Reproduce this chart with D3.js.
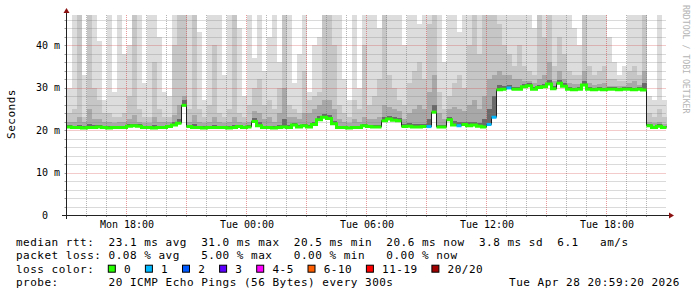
<!DOCTYPE html>
<html>
<head>
<meta charset="utf-8">
<script src="https://cdn.jsdelivr.net/npm/d3@7"></script>
<style>
  html, body { margin: 0; padding: 0; background: #fff; }
  svg { display: block; }
  text { font-family: "DejaVu Sans Mono", monospace; }
</style>
</head>
<body>
<div id="chart"></div>
<script>
// SmokePing style latency graph, one column per 15 minute step from Mon 15:00

// median rtt per step (ms)
const median = [
  20.7, 20.6, 20.6, 20.5, 20.6, 20.6, 20.7, 20.6, 20.5, 20.6,
  20.6, 20.6, 20.9, 21.0, 20.9, 20.6, 20.6, 20.5, 20.6, 20.6,
  20.8, 21.2, 21.6, 25.8, 20.8, 20.6, 20.6, 20.5, 20.6, 20.6,
  20.6, 20.6, 20.5, 20.6, 20.8, 20.6, 20.7, 22.0, 21.0, 20.6,
  20.6, 20.5, 20.6, 20.7, 20.6, 21.2, 20.7, 21.0, 20.7, 21.3,
  22.4, 23.0, 22.7, 21.5, 20.6, 20.6, 20.5, 20.6, 20.6, 21.0,
  20.8, 20.7, 20.7, 22.2, 22.6, 22.3, 22.2, 20.8, 20.9, 20.7,
  20.7, 20.8, 20.8, 24.2, 20.7, 20.7, 22.4, 21.2, 21.0, 21.3,
  21.0, 21.2, 20.9, 20.7, 21.3, 23.0, 29.5, 29.6, 29.9, 29.6,
  29.6, 30.2, 30.4, 29.6, 30.0, 30.2, 30.8, 29.7, 31.0, 30.3,
  29.6, 29.5, 29.6, 30.6, 29.6, 29.5, 29.6, 29.5, 29.6, 29.6,
  29.5, 29.6, 29.6, 29.5, 29.6, 29.4, 21.0, 20.6, 20.9, 20.6
];

// lost pings per step (index into lossLabels)
const lossIdx = [
  0, 0, 0, 0, 0, 0, 0, 0, 0, 0,
  0, 0, 0, 0, 0, 0, 0, 0, 0, 0,
  0, 0, 0, 0, 0, 0, 0, 0, 0, 0,
  0, 0, 0, 0, 0, 0, 0, 0, 0, 0,
  0, 0, 0, 0, 0, 0, 0, 0, 0, 0,
  0, 0, 0, 0, 0, 0, 0, 0, 0, 0,
  0, 0, 0, 0, 0, 0, 0, 0, 0, 0,
  0, 0, 1, 0, 0, 0, 0, 0, 1, 0,
  0, 0, 0, 0, 1, 1, 0, 0, 1, 0,
  0, 0, 0, 0, 0, 0, 0, 0, 0, 0,
  0, 0, 0, 0, 0, 0, 0, 0, 0, 0,
  0, 0, 0, 0, 0, 0, 0, 0, 0, 0
];

// smoke: slowest ping of the step (ms)
const pingMax = [
  30, 47.5, 47.5, 33, 47.5, 47.5, 41, 27, 47.5, 29,
  47.5, 38, 40, 47.5, 47.5, 31, 47.5, 47.5, 42, 29,
  28, 47.5, 47.5, 47.5, 47.5, 47.5, 43, 27, 47.5, 47.5,
  47.5, 33, 47.5, 47.5, 44, 28, 47.5, 37, 47.5, 34,
  42, 47.5, 36, 47.5, 47.5, 31, 38, 47.5, 29, 40,
  42, 47.5, 47.5, 47.5, 47.5, 32, 27, 47.5, 30, 47.5,
  47.5, 47.5, 44, 47.5, 47.5, 47.5, 47.5, 40, 47.5, 47.5,
  45, 47.5, 47.5, 47.5, 47.5, 36, 47.5, 47.5, 43, 47.5,
  47.5, 47.5, 47.5, 47.5, 47.5, 47.5, 47.5, 47.5, 47.5, 47.5,
  47.5, 47.5, 47.5, 44, 47.5, 47.5, 47.5, 47.5, 47.5, 47.5,
  47.5, 44, 40, 47.5, 47.5, 47.5, 47.5, 47.5, 42, 36,
  33, 35, 47.5, 47.5, 47.5, 47.5, 28, 27, 47.5, 27
];

// smoke: 18th of 20 sorted pings
const ping18 = [
  24, 25, 47.5, 23, 47.5, 30, 27, 24, 24, 23,
  23, 24, 28, 47.5, 25, 23, 23, 36, 25, 23,
  23, 40, 47.5, 47.5, 25, 47.5, 25, 23, 26, 40,
  24, 23, 25, 47.5, 24, 23, 26, 30, 32, 26,
  27, 25, 30, 47.5, 26, 25, 24, 34, 27, 28,
  29, 47.5, 47.5, 40, 26, 24, 23, 27, 25, 40,
  26, 28, 32, 47.5, 33, 30, 27, 26, 31, 34,
  36, 32, 45, 47.5, 29, 25, 28, 31, 33, 30,
  40, 47.5, 38, 47.5, 47.5, 47.5, 45, 40, 38, 35,
  40, 35, 34, 33, 47.5, 42, 47.5, 35, 42, 38,
  34, 33, 33, 47.5, 35, 33, 34, 35, 32, 32,
  31.5, 31.5, 34, 35, 33, 47.5, 24, 23, 25, 23
];

// smoke: 15th of 20 sorted pings
const ping15 = [
  22, 22, 23, 21.8, 25, 22.5, 22.5, 22, 21.8, 21.6,
  21.8, 22, 22.5, 23.5, 22, 21.6, 21.6, 23, 22, 21.8,
  21.8, 23.5, 26, 28, 22, 23.5, 22, 21.6, 22, 23,
  21.8, 21.6, 22, 23, 22, 21.6, 22, 24.5, 24, 22.5,
  23, 22, 24, 30, 23, 23, 22.5, 24, 24, 25,
  26, 27, 27, 25, 22.5, 22, 21.6, 22.5, 22, 23,
  22.5, 22.5, 23, 26, 25.5, 25, 24.5, 22.5, 24, 25,
  26, 25, 29, 33, 24, 22.5, 25, 25.5, 25, 24.5,
  26, 27, 25, 28, 32, 33, 34, 33, 33, 32,
  32, 31.5, 31.5, 31, 32, 33, 36, 31.5, 34, 32,
  31, 30.8, 30.8, 34, 31, 30.6, 30.8, 31, 30.4, 30.4,
  30.3, 30.3, 31, 31.5, 30.6, 34, 22, 21.6, 22, 21.5
];

// smoke: 12th of 20 sorted pings (just above the median)
const ping12 = [
  21.2, 21.0, 21.2, 20.9, 21.4, 21.1, 21.2, 21.0, 20.9, 20.9,
  21.0, 21.0, 21.3, 21.5, 21.3, 20.9, 20.9, 21.2, 21.0, 20.9,
  21.2, 21.8, 22.6, 27, 21.2, 21.3, 21.0, 20.9, 21.0, 21.2,
  21.0, 20.9, 20.9, 21.1, 21.2, 20.9, 21.1, 22.8, 21.8, 21.0,
  21.0, 20.9, 21.1, 22.5, 21.1, 21.7, 21.1, 21.5, 21.2, 22,
  23.2, 23.8, 23.5, 22.2, 21.0, 20.9, 20.8, 21.0, 21.0, 21.5,
  21.2, 21.1, 21.1, 23, 23.3, 23, 22.8, 21.3, 21.6, 21.4,
  21.5, 21.5, 22.5, 26, 21.2, 21.1, 23, 22.2, 22, 22,
  21.8, 22, 21.6, 22.5, 25, 28, 30.5, 30.4, 30.6, 30.2,
  30.2, 30.8, 31, 30.2, 30.6, 30.8, 31.8, 30.3, 31.8, 31,
  30.2, 30, 30.2, 31.5, 30.2, 30, 30.2, 30, 30.1, 30.1,
  30, 30.1, 30.2, 30, 30.2, 31, 21.4, 21.0, 21.3, 20.9
];

const yTicks = [0, 10, 20, 30, 40];
const xTickLabels = ["Mon 18:00", "Tue 00:00", "Tue 06:00", "Tue 12:00", "Tue 18:00"];
const lossLabels = ["0", "1", "2", "3", "4-5", "6-10", "11-19", "20/20"];
const lossColors = ["#26ff00", "#00b8ff", "#0059ff", "#5e00ff", "#ff00ff", "#ff5e00", "#ff0000", "#a10000"];

const legendRows = [
  "median rtt:  23.1 ms avg  31.0 ms max  20.5 ms min  20.6 ms now  3.8 ms sd  6.1   am/s",
  "packet loss: 0.08 % avg   5.00 % max   0.00 % min   0.00 % now"
];
const probeText = "probe:       20 ICMP Echo Pings (56 Bytes) every 300s";
const stampText = "Tue Apr 28 20:59:20 2026";

const W = 697, H = 297;
const x0 = 66.5, x1 = 666.5, yBase = 215, yTop = 15;
const start = new Date(2026, 3, 27, 15, 0);
const end = new Date(2026, 3, 28, 21, 0);
const step = 15 * 60 * 1000;
const times = median.map((d, i) => new Date(+start + i * step));

const x = d3.scaleTime().domain([start, end]).range([x0, x1]);
const y = d3.scaleLinear().domain([0, 47.06]).range([yBase, yTop]).clamp(true);
const crisp = v => Math.round(v) + 0.5;

const svg = d3.select("#chart").append("svg")
  .attr("width", W)
  .attr("height", H);

svg.append("rect").attr("width", W).attr("height", H).attr("fill", "#ffffff");

// smoke, outer band first
const smoke = svg.append("g").attr("shape-rendering", "crispEdges");
const bands = [
  { vals: pingMax, color: "#dddddd" },
  { vals: ping18, color: "#c6c6c6" },
  { vals: ping15, color: "#a8a8a8" },
  { vals: ping12, color: "#6a6a6a" }
];
bands.forEach(b => {
  smoke.selectAll(null)
    .data(b.vals)
    .join("rect")
    .attr("x", (d, i) => x(times[i]))
    .attr("width", (d, i) => x(new Date(+times[i] + step)) - x(times[i]))
    .attr("y", d => y(d))
    .attr("height", (d, i) => Math.max(0, y(median[i]) - y(d)))
    .attr("fill", b.color);
});

// grid
const minorCol = "rgba(120,120,120,0.55)";
const majorCol = "rgba(210,50,50,0.5)";
const grid = svg.append("g").attr("stroke-width", 1).attr("stroke-dasharray", "1,1");
const hours = d3.timeHour.every(1).range(start, end).filter(t => +t > +start);
grid.selectAll(null)
  .data(hours)
  .join("line")
  .attr("x1", d => crisp(x(d) - 0.5)).attr("x2", d => crisp(x(d) - 0.5))
  .attr("y1", yTop).attr("y2", yBase)
  .attr("stroke", d => d.getHours() % 3 === 0 ? majorCol : minorCol);

const yMinor = d3.range(2, 47, 2);
grid.selectAll(null)
  .data(yMinor)
  .join("line")
  .attr("x1", x0).attr("x2", x1)
  .attr("y1", d => crisp(y(d))).attr("y2", d => crisp(y(d)))
  .attr("stroke", d => d % 10 === 0 ? majorCol : minorCol);

// median: thin dark step line, then loss coloured segments
const stepLine = d3.line()
  .x(d => x(d.t))
  .y(d => y(d.v))
  .curve(d3.curveStepAfter);

const pts = median.map((v, i) => ({ t: times[i], v: v, loss: lossIdx[i] }));
const ptsEnd = pts.concat([{ t: end, v: median[median.length - 1], loss: 0 }]);

svg.append("path")
  .attr("d", stepLine(ptsEnd))
  .attr("fill", "none")
  .attr("stroke", "#202020")
  .attr("stroke-width", 1);

const runs = [];
pts.forEach((p, i) => {
  const last = runs[runs.length - 1];
  const prev = pts[i - 1];
  if (last && prev && prev.loss === p.loss && Math.abs(prev.v - p.v) < 1.2) {
    last.push(p);
  } else {
    runs.push([p]);
  }
});
runs.forEach(r => {
  const tail = r[r.length - 1];
  const seg = r.concat([{ t: new Date(+tail.t + step), v: tail.v }]);
  svg.append("path")
    .attr("d", stepLine(seg))
    .attr("fill", "none")
    .attr("stroke", lossColors[r[0].loss])
    .attr("stroke-width", 3);
});

// axes
const axisColor = "#222222";
const arrowColor = "#8b1010";
const xAxis = d3.axisBottom(x)
  .tickValues(d3.timeHour.every(6).range(start, end))
  .tickSize(0)
  .tickPadding(5.4)
  .tickFormat((d, i) => xTickLabels[i]);
const gx = svg.append("g").attr("transform", `translate(0,${yBase})`).call(xAxis);
gx.select(".domain").remove();
gx.selectAll("text").attr("font-size", 10).attr("font-family", "DejaVu Sans Mono").attr("fill", "#000");

const yAxis = d3.axisLeft(y)
  .tickValues(yTicks)
  .tickSize(0)
  .tickPadding(6.5)
  .tickFormat(d => d === 0 ? " 0  " : d + " m");
const gy = svg.append("g").attr("transform", `translate(${x0},0)`).call(yAxis);
gy.select(".domain").remove();
gy.selectAll("text")
  .attr("font-size", 10)
  .attr("font-family", "DejaVu Sans Mono")
  .attr("fill", "#000")
  .attr("xml:space", "preserve")
  .style("white-space", "pre");

// small ticks on the axes
const ticks = svg.append("g").attr("stroke", "#9a9a9a").attr("stroke-width", 1);
ticks.selectAll(null)
  .data(yMinor.concat([0]))
  .join("line")
  .attr("x1", x0 - 2).attr("x2", x0)
  .attr("y1", d => crisp(y(d))).attr("y2", d => crisp(y(d)));
ticks.selectAll(null)
  .data(hours)
  .join("line")
  .attr("x1", d => crisp(x(d) - 0.5)).attr("x2", d => crisp(x(d) - 0.5))
  .attr("y1", yBase).attr("y2", yBase + 2);

svg.append("line")
  .attr("x1", 62).attr("x2", 670)
  .attr("y1", yBase + 0.5).attr("y2", yBase + 0.5)
  .attr("stroke", axisColor);
svg.append("line")
  .attr("x1", x0).attr("x2", x0)
  .attr("y1", yBase + 4).attr("y2", 12)
  .attr("stroke", axisColor);
svg.append("path")
  .attr("d", `M669,${yBase - 2.5}L674,${yBase + 0.5}L669,${yBase + 3.5}Z`)
  .attr("fill", arrowColor);
svg.append("path")
  .attr("d", `M${x0 - 3},13L${x0},8L${x0 + 3},13Z`)
  .attr("fill", arrowColor);

// unit label and watermark
svg.append("text")
  .attr("transform", "translate(15,114) rotate(-90)")
  .attr("text-anchor", "middle")
  .attr("font-size", 11)
  .attr("letter-spacing", 0.5)
  .attr("fill", "#000")
  .text("Seconds");

svg.append("text")
  .attr("transform", "translate(683,5) rotate(90)")
  .attr("font-size", 8.2)
  .attr("fill", "#b4b4b4")
  .text("RRDTOOL / TOBI OETIKER");

// legend
const legend = svg.append("g")
  .attr("font-size", 11)
  .attr("letter-spacing", 0.5)
  .attr("fill", "#000");

legend.selectAll(null)
  .data(legendRows)
  .join("text")
  .attr("x", 16)
  .attr("y", (d, i) => 245.5 + i * 13.6)
  .attr("xml:space", "preserve")
  .style("white-space", "pre")
  .text(d => d);

legend.append("text")
  .attr("x", 16).attr("y", 272.6)
  .text("loss color:");

let bx = 108.3;
lossLabels.forEach((lab, i) => {
  legend.append("rect")
    .attr("x", bx).attr("y", 265.2)
    .attr("width", 7).attr("height", 7)
    .attr("fill", lossColors[i])
    .attr("stroke", "#000")
    .attr("stroke-width", 1);
  legend.append("text")
    .attr("x", bx + 15.7).attr("y", 272.6)
    .text(lab);
  bx += 15.7 + lab.length * 7.1 + 14.3;
});

legend.append("text")
  .attr("x", 16).attr("y", 286.3)
  .attr("xml:space", "preserve")
  .style("white-space", "pre")
  .text(probeText);
legend.append("text")
  .attr("x", 680).attr("y", 286.3)
  .attr("text-anchor", "end")
  .text(stampText);
</script>
</body>
</html>
